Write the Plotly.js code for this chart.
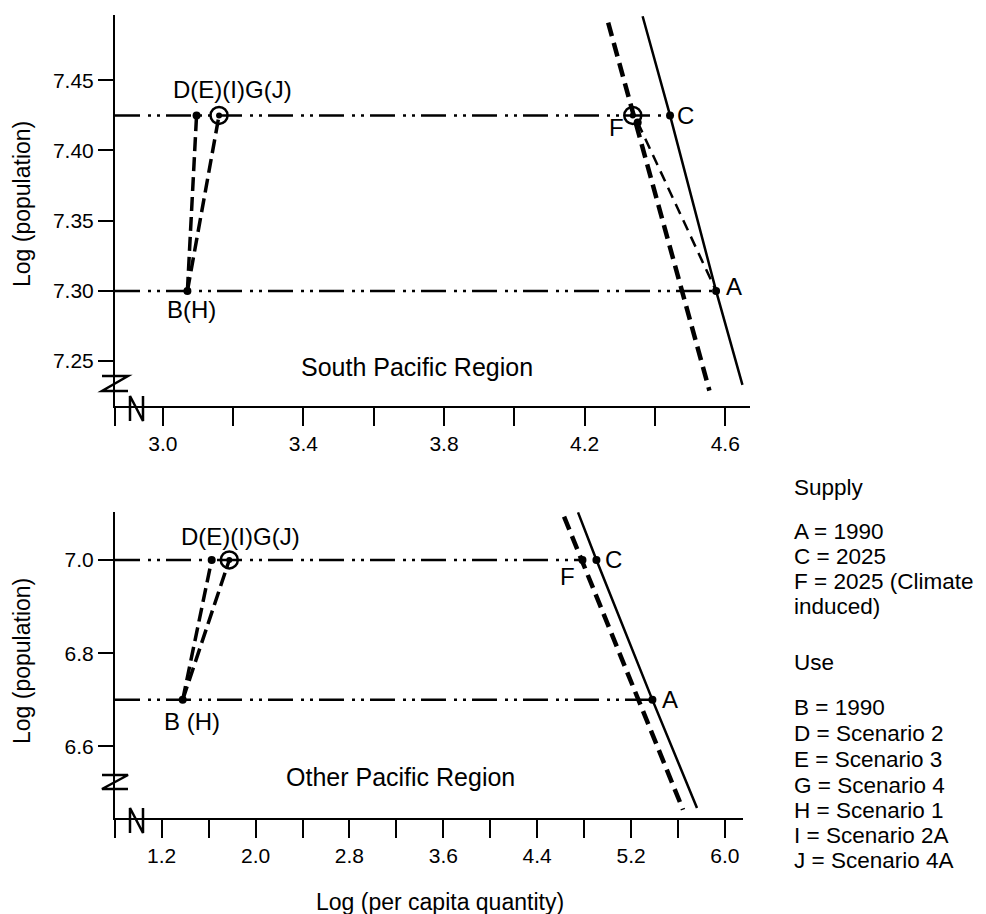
<!DOCTYPE html>
<html>
<head>
<meta charset="utf-8">
<script src="https://cdn.plot.ly/plotly-3.0.1.min.js"></script>
<style>html,body{margin:0;padding:0;background:#fff;}#chart{width:986px;height:914px;}</style>
</head>
<body>
<div id="chart"></div>
<script>
// ---------- South Pacific Region (top panel) ----------
const spXRange = [2.864, 4.6705];
const spYRange = [7.218, 7.4965];
const spXTickVals = [2.864, 3.0, 3.2, 3.4, 3.6, 3.8, 4.0, 4.2, 4.4, 4.6];
const spXTickText = ['', '3.0', '', '3.4', '', '3.8', '', '4.2', '', '4.6'];
const spYTickVals = [7.25, 7.30, 7.35, 7.40, 7.45];
const spYTickText = ['7.25', '7.30', '7.35', '7.40', '7.45'];
const spLevelY = [7.30, 7.425];          // log population 1990, 2025
const spLevelEndX = [4.574, 4.443];      // run to A and C
const spSupplyX = [4.365, 4.443, 4.574, 4.649];   // supply line through C and A
const spSupplyY = [7.4956, 7.425, 7.30, 7.233];
const spClimX = [4.267, 4.555];          // climate-induced supply (through F)
const spClimY = [7.491, 7.229];
const spFtoAX = [4.351, 4.574];
const spFtoAY = [7.420, 7.30];
const spUseDX = [3.07, 3.096];           // B -> D
const spUseDY = [7.30, 7.425];
const spUseIX = [3.07, 3.16];            // B -> I
const spUseIY = [7.30, 7.425];
const spDotX = [3.07, 3.096, 4.443, 4.574, 4.351];
const spDotY = [7.30, 7.425, 7.425, 7.30, 7.420];
const spRingX = [3.16, 4.337];
const spRingY = [7.425, 7.425];
const spLabels = ['D(E)(I)G(J)', 'B(H)', 'F', 'C', 'A'];
const spLabelX = [3.16, 3.07, 4.337, 4.443, 4.574];
const spLabelY = [7.425, 7.30, 7.425, 7.425, 7.30];

// ---------- Other Pacific Region (bottom panel) ----------
const opXRange = [0.802, 6.154];
const opYRange = [6.4466, 7.1029];
const opXTickVals = [0.802, 1.2, 1.6, 2.0, 2.4, 2.8, 3.2, 3.6, 4.0, 4.4, 4.8, 5.2, 5.6, 6.0];
const opXTickText = ['', '1.2', '', '2.0', '', '2.8', '', '3.6', '', '4.4', '', '5.2', '', '6.0'];
const opYTickVals = [6.6, 6.8, 7.0];
const opYTickText = ['6.6', '6.8', '7.0'];
const opLevelY = [6.70, 7.0];
const opLevelEndX = [5.382, 4.786];      // run to A and F
const opSupplyX = [4.748, 4.905, 5.382, 5.762];
const opSupplyY = [7.102, 7.0, 6.70, 6.468];
const opClimX = [4.629, 5.643];
const opClimY = [7.093, 6.4643];
const opUseDX = [1.379, 1.626];
const opUseDY = [6.70, 7.0];
const opUseIX = [1.379, 1.776];
const opUseIY = [6.70, 7.0];
const opDotX = [1.379, 1.626, 4.786, 4.905, 5.382];
const opDotY = [6.70, 7.0, 7.0, 7.0, 6.70];
const opRingX = [1.776];
const opRingY = [7.0];
const opLabels = ['D(E)(I)G(J)', 'B (H)', 'F', 'C', 'A'];
const opLabelX = [1.776, 1.379, 4.786, 4.905, 5.382];
const opLabelY = [7.0, 6.70, 7.0, 7.0, 6.70];

// ---------- Key ----------
const keyLines = ['Supply', 'A = 1990', 'C = 2025', 'F = 2025 (Climate', 'induced)', 'Use',
  'B = 1990', 'D = Scenario 2', 'E = Scenario 3', 'G = Scenario 4', 'H = Scenario 1',
  'I = Scenario 2A', 'J = Scenario 4A'];

// ---------- styling / layout helpers ----------
const FONT = 'Liberation Sans, Arial, sans-serif';
const W = 986, H = 914, ML = 115, MR = 236, MT = 15, MB = 96;
const PW = W - ML - MR, PH = H - MT - MB;
const px2paperX = p => (p - ML) / PW;
const px2paperY = p => (H - MB - p) / PH;

const HDASH = '25px,8px,3px,6px,3px,6px';
function lineTrace(x, y, ax, w, dash) {
  return {type: 'scatter', mode: 'lines', x: x, y: y, xaxis: ax[0], yaxis: ax[1],
    line: {color: 'black', width: w, dash: dash}, hoverinfo: 'skip'};
}
function levelTraces(levels, ends, xmin, ax) {
  return levels.map((lv, i) => lineTrace([xmin, ends[i]], [lv, lv], ax, 2.5, HDASH));
}
function dotTrace(x, y, ax) {
  return {type: 'scatter', mode: 'markers', x: x, y: y, xaxis: ax[0], yaxis: ax[1],
    marker: {color: 'black', size: 8}, hoverinfo: 'skip'};
}
function ringTraces(x, y, ax) {
  return [
    {type: 'scatter', mode: 'markers', x: x, y: y, xaxis: ax[0], yaxis: ax[1],
      marker: {symbol: 'circle-open', color: 'black', size: 17, line: {width: 2.5, color: 'black'}}, hoverinfo: 'skip'},
    {type: 'scatter', mode: 'markers', x: x, y: y, xaxis: ax[0], yaxis: ax[1],
      marker: {color: 'black', size: 6}, hoverinfo: 'skip'}
  ];
}

const AX_TOP = ['x', 'y'], AX_BOT = ['x2', 'y2'];
const data = [].concat(
  levelTraces(spLevelY, spLevelEndX, spXRange[0], AX_TOP),
  [lineTrace(spSupplyX, spSupplyY, AX_TOP, 2.5, 'solid'),
   lineTrace(spClimX, spClimY, AX_TOP, 4.5, '14px,7px'),
   lineTrace(spFtoAX, spFtoAY, AX_TOP, 2.5, '11px,7px'),
   lineTrace(spUseDX, spUseDY, AX_TOP, 3.5, '14px,6px'),
   lineTrace(spUseIX, spUseIY, AX_TOP, 3.5, '14px,6px'),
   dotTrace(spDotX, spDotY, AX_TOP)],
  ringTraces(spRingX, spRingY, AX_TOP),
  levelTraces(opLevelY, opLevelEndX, opXRange[0], AX_BOT),
  [lineTrace(opSupplyX, opSupplyY, AX_BOT, 2.5, 'solid'),
   lineTrace(opClimX, opClimY, AX_BOT, 4.5, '14px,7px'),
   lineTrace(opUseDX, opUseDY, AX_BOT, 3.5, '14px,6px'),
   lineTrace(opUseIX, opUseIY, AX_BOT, 3.5, '14px,6px'),
   dotTrace(opDotX, opDotY, AX_BOT)],
  ringTraces(opRingX, opRingY, AX_BOT)
);

// label offsets (pixels) relative to their points
const spShift = [[13, 26], [4, -19], [-16, -12], [15, 0], [18, 4]];
const opShift = [[11, 23], [9, -22], [-15, -17], [17, 0], [18, 0]];
const annotations = [];
function pointLabels(texts, xs, ys, shifts, xr, yr) {
  texts.forEach((t, i) => annotations.push({text: t, x: xs[i], y: ys[i], xref: xr, yref: yr,
    xanchor: 'center', yanchor: 'middle', xshift: shifts[i][0], yshift: shifts[i][1],
    showarrow: false, font: {family: FONT, size: 24, color: 'black'}}));
}
pointLabels(spLabels, spLabelX, spLabelY, spShift, 'x', 'y');
pointLabels(opLabels, opLabelX, opLabelY, opShift, 'x2', 'y2');

annotations.push({text: 'South Pacific Region', xref: 'paper', yref: 'paper', x: px2paperX(417), y: px2paperY(367),
  xanchor: 'center', yanchor: 'middle', showarrow: false, font: {family: FONT, size: 25, color: 'black'}});
annotations.push({text: 'Other Pacific Region', xref: 'paper', yref: 'paper', x: px2paperX(400), y: px2paperY(777),
  xanchor: 'center', yanchor: 'middle', showarrow: false, font: {family: FONT, size: 25, color: 'black'}});
annotations.push({text: 'Log (population)', xref: 'paper', yref: 'paper', x: px2paperX(22), y: px2paperY(204),
  textangle: -90, xanchor: 'center', yanchor: 'middle', showarrow: false, font: {family: FONT, size: 23, color: 'black'}});
annotations.push({text: 'Log (population)', xref: 'paper', yref: 'paper', x: px2paperX(22), y: px2paperY(661),
  textangle: -90, xanchor: 'center', yanchor: 'middle', showarrow: false, font: {family: FONT, size: 23, color: 'black'}});
annotations.push({text: 'Log (per capita quantity)', xref: 'paper', yref: 'paper', x: px2paperX(440), y: px2paperY(902),
  xanchor: 'center', yanchor: 'middle', showarrow: false, font: {family: FONT, size: 23, color: 'black'}});

const keyY = [487, 531, 556, 581, 606, 662, 707, 733, 759, 785, 810, 835, 860];
keyLines.forEach((t, i) => annotations.push({text: t, xref: 'paper', yref: 'paper', x: px2paperX(792), y: px2paperY(keyY[i]),
  xanchor: 'left', yanchor: 'middle', showarrow: false, font: {family: FONT, size: 22.5, color: 'black'}}));

// axis-break marks
function pathPx(pts) {
  return pts.map((p, i) => (i ? 'L' : 'M') + px2paperX(p[0]).toFixed(5) + ',' + px2paperY(p[1]).toFixed(5)).join(' ');
}
const breakPaths = [
  [[102, 376], [128, 376], [102, 391], [128, 391]],
  [[130, 421], [130, 396], [143, 421], [143, 396]],
  [[102, 775], [128, 775], [102, 789], [128, 789]],
  [[130, 833], [130, 808], [143, 833], [143, 808]]
];
const shapes = breakPaths.map(p => ({type: 'path', xref: 'paper', yref: 'paper', path: pathPx(p),
  line: {color: 'black', width: 2.5}}));

function axisCommon(extra) {
  return Object.assign({showline: true, linecolor: 'black', linewidth: 2, ticks: 'outside', tickwidth: 2,
    tickcolor: 'black', showgrid: false, zeroline: false, tickmode: 'array',
    tickfont: {family: FONT, size: 21, color: 'black'}}, extra);
}

const layout = {
  width: W, height: H, margin: {l: ML, r: MR, t: MT, b: MB},
  paper_bgcolor: 'white', plot_bgcolor: 'white', showlegend: false,
  xaxis: axisCommon({domain: [0, 1], range: spXRange, anchor: 'y', ticklen: 18,
    tickvals: spXTickVals, ticktext: spXTickText}),
  yaxis: axisCommon({domain: [px2paperY(406), 1], range: spYRange, anchor: 'x', ticklen: 15,
    tickvals: spYTickVals, ticktext: spYTickText}),
  xaxis2: axisCommon({domain: [0, (743 - ML) / PW], range: opXRange, anchor: 'y2', ticklen: 18,
    tickvals: opXTickVals, ticktext: opXTickText}),
  yaxis2: axisCommon({domain: [0, px2paperY(512)], range: opYRange, anchor: 'x2', ticklen: 15,
    tickvals: opYTickVals, ticktext: opYTickText}),
  annotations: annotations,
  shapes: shapes
};

Plotly.newPlot('chart', data, layout, {displayModeBar: false, staticPlot: true});
</script>
</body>
</html>
